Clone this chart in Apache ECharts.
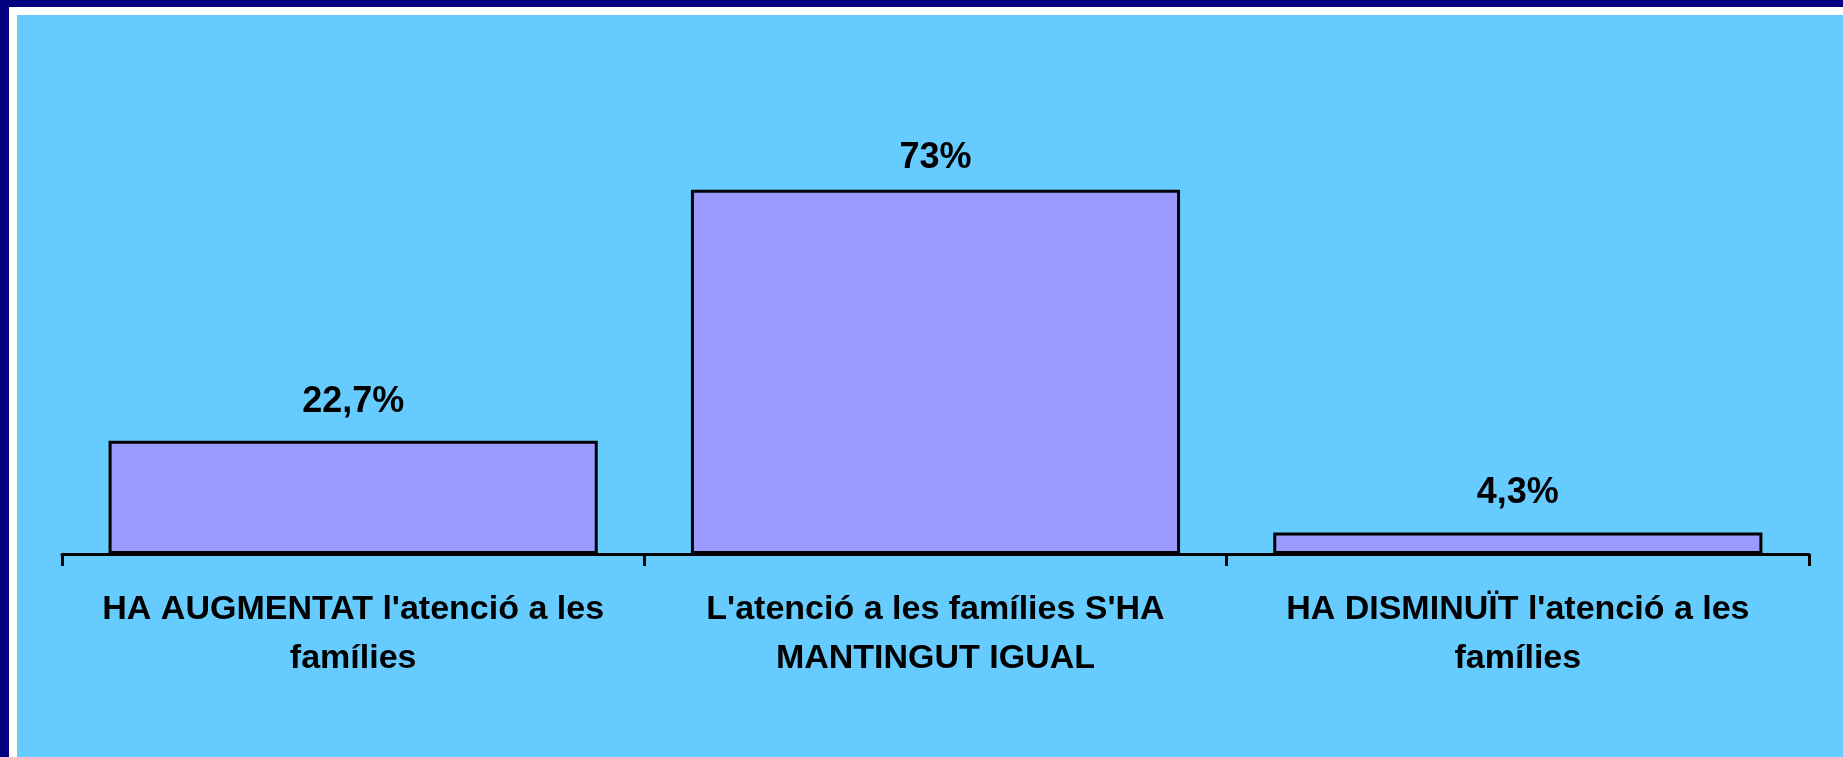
<!DOCTYPE html>
<html lang="ca">
  <head>
    <meta charset="UTF-8" />
    <title>Atenció a les famílies</title>
    <script src="https://cdn.jsdelivr.net/npm/echarts@6/dist/echarts.min.js"></script>
    <style>
      html, body { margin: 0; padding: 0; background: #000080; overflow: hidden; }
      #frame { position: absolute; left: 9px; top: 7px; right: 0; bottom: 0; background: #ffffff; }
      #chart { position: absolute; left: 17px; top: 15px; width: 1826px; height: 742px; }
    </style>
  </head>
  <body>
    <div id="frame"></div>
    <div id="chart"></div>

    <script>
      // dades
      var categories = [
        "HA AUGMENTAT l'atenció a les\nfamílies",
        "L'atenció a les famílies S'HA\nMANTINGUT IGUAL",
        "HA DISMINUÏT l'atenció a les\nfamílies"
      ];
      var values = [22.7, 73, 4.3];
      var valueLabels = ["22,7%", "73%", "4,3%"];

      var font = "'Liberation Sans', Arial, sans-serif";
      var myChart = echarts.init(document.getElementById("chart"));

      var option = {
        backgroundColor: "#66CCFF",
        animation: false,
        grid: { left: 45, right: 34, top: 40, bottom: 203 },
        xAxis: {
          type: "category",
          data: categories,
          axisLine: { lineStyle: { color: "#000", width: 3 } },
          axisTick: { show: true, length: 12, lineStyle: { color: "#000", width: 3 } },
          axisLabel: {
            margin: 31,
            color: "#000",
            fontFamily: font,
            fontWeight: "bold",
            fontSize: 34,
            lineHeight: 49,
            interval: 0
          }
        },
        yAxis: {
          type: "value",
          min: 0,
          max: 100,
          show: false
        },
        series: [
          {
            type: "bar",
            // l'etiqueta de la barra alta queda una mica més a prop
            data: values.map(function (v, i) {
              return v === 73 ? { value: v, label: { distance: 14 } } : v;
            }),
            barCategoryGap: "16%",
            itemStyle: { color: "#9999FF", borderColor: "#000", borderWidth: 3 },
            label: {
              show: true,
              position: "top",
              distance: 21,
              color: "#000",
              fontFamily: font,
              fontWeight: "bold",
              fontSize: 36,
              formatter: function (p) {
                return valueLabels[p.dataIndex];
              }
            }
          }
        ]
      };

      myChart.setOption(option);
    </script>
  </body>
</html>
